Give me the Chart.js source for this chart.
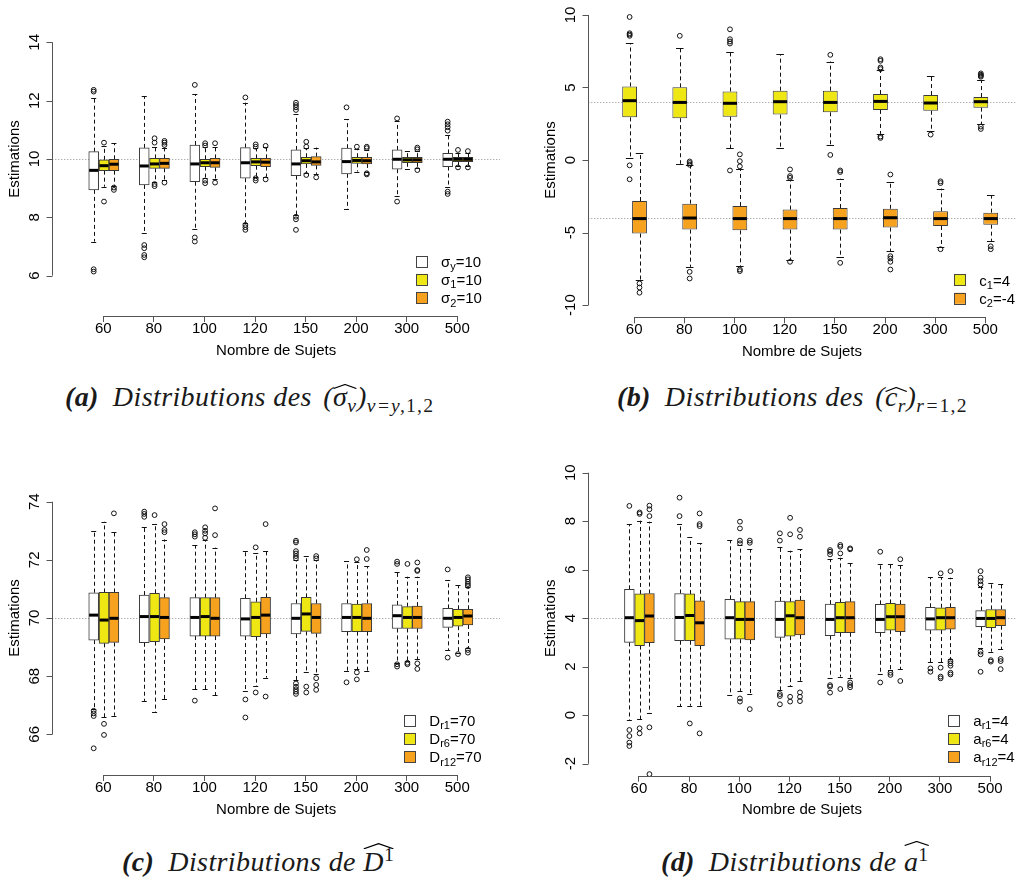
<!DOCTYPE html>
<html>
<head>
<meta charset="utf-8">
<script src="https://cdn.jsdelivr.net/npm/chart.js@4.4.1/dist/chart.umd.min.js"></script>
<style>
html,body{margin:0;padding:0;background:#fff;}
body{width:1019px;height:882px;position:relative;overflow:hidden;}
canvas{position:absolute;}
.cap{position:absolute;font-family:"Liberation Serif","Times New Roman",serif;font-style:italic;font-size:28px;color:#1a1a1a;white-space:nowrap;line-height:1;letter-spacing:0.4px;}
.cap b{font-weight:bold;margin-right:14px;}
.cap sub{font-size:0.7em;vertical-align:-0.32em;line-height:0;letter-spacing:1.2px;}
.cap sup{font-size:0.7em;vertical-align:0.5em;line-height:0;font-style:normal;}
.cap .up{font-style:normal;}
.cap .m{margin-left:4px;}
.wh{position:relative;display:inline-block;}
.wh::before{content:"";position:absolute;left:0;right:0;top:0.03em;height:0.2em;
background:url("data:image/svg+xml;utf8,<svg xmlns='http://www.w3.org/2000/svg' viewBox='0 0 40 10' preserveAspectRatio='none'><path d='M1 9 L20 1 L39 9' fill='none' stroke='black' stroke-width='1.2' vector-effect='non-scaling-stroke'/></svg>") no-repeat;background-size:100% 100%;}
.wh.c::before{top:0.13em;}
.wh.D::before{top:-0.18em;}
.wh.a::before{top:-0.26em;}
</style>
</head>
<body>
<canvas id="pa" width="510" height="370" style="left:0;top:0"></canvas>
<canvas id="pb" width="509" height="370" style="left:510px;top:0"></canvas>
<canvas id="pc" width="510" height="400" style="left:0;top:440px"></canvas>
<canvas id="pd" width="509" height="400" style="left:510px;top:440px"></canvas>

<div class="cap" style="left:65px;top:383px"><b>(a)</b>Distributions des <span class="m">(</span><span class="wh">σ<sub>v</sub></span>)<sub>v=y,<span class="up">1,2</span></sub></div>
<div class="cap" style="left:617px;top:383px"><b>(b)</b>Distributions des <span class="m">(</span><span class="wh c">c<sub>r</sub></span>)<sub>r=<span class="up">1,2</span></sub></div>
<div class="cap" style="left:122px;top:848px"><b>(c)</b>Distributions de <span class="wh D">D<sup>1</sup></span></div>
<div class="cap" style="left:661px;top:848px"><b>(d)</b>Distributions de <span class="wh a">a<sup>1</sup></span></div>

<script>
// ---------------- DATA ----------------
const categories = ['60','80','100','120','150','200','300','500'];

// each entry: [lower whisker, Q1, median, Q3, upper whisker]
// Panel (a)
const a_sigmaY = [[7.17,8.94,9.61,10.25,12.10],[7.45,9.11,9.76,10.38,12.16],[7.59,9.22,9.83,10.48,12.23],[7.82,9.34,9.87,10.39,11.93],[8.08,9.43,9.83,10.31,11.54],[8.27,9.49,9.91,10.37,11.37],[8.74,9.65,9.99,10.31,11.30],[9.05,9.74,9.99,10.19,10.82]];
const a_sigmaY_out = [[12.37,12.31,6.22,6.14],[7.05,6.94,6.71,6.63],[12.54,7.31,7.17],[12.11,7.74,7.66,7.57],[11.93,11.85,11.77,11.68,8.02,7.93,7.57],[11.77],[11.39,8.54],[11.28,11.19,11.09,10.97,8.88,8.80]];
const a_sigma1 = [[9.05,9.60,9.77,9.97,10.45],[9.22,9.68,9.83,10.02,10.42],[9.34,9.74,9.87,9.99,10.42],[9.39,9.77,9.90,10.02,10.37],[9.53,9.83,9.94,10.06,10.37],[9.57,9.85,9.95,10.06,10.35],[9.65,9.87,9.97,10.06,10.27],[9.76,9.91,9.99,10.06,10.22]];
const a_sigma1_out = [[10.56,8.54],[10.71,10.56,9.14,9.07],[10.54,10.46,9.26,9.17],[10.50,10.42,9.34,9.26],[10.59,10.42,9.45],[10.42],[],[10.31,9.71]];
const a_sigma2 = [[9.09,9.60,9.82,9.99,10.54],[9.28,9.68,9.85,10.02,10.39],[9.30,9.71,9.87,10.02,10.40],[9.39,9.74,9.89,10.02,10.40],[9.49,9.78,9.90,10.08,10.39],[9.57,9.83,9.94,10.06,10.31],[9.70,9.87,9.97,10.06,10.27],[9.76,9.91,9.99,10.06,10.22]];
const a_sigma2_out = [[9.02,8.94],[10.62,10.56,10.48,9.19],[10.54,9.19],[10.45,9.30],[9.37],[10.42,10.37,9.51,9.47],[10.39,10.33,9.62],[10.27,9.71]];
const a_yTicks = [6,8,10,12,14];
const a_ref = [10];
const a_legend = [['σ','y','=10'],['σ','1','=10'],['σ','2','=10']];

// Panel (b)
const b_c1 = [[0.15,2.94,4.09,5.07,8.05],[-0.26,2.88,3.97,5.01,7.69],[0.81,2.99,3.91,4.73,7.46],[0.81,3.13,4.02,4.78,7.30],[1.04,3.29,3.97,4.78,6.79],[1.80,3.45,4.04,4.55,6.22],[2.00,3.40,3.93,4.48,5.78],[2.46,3.61,4.02,4.34,5.51]];
const b_c1_out = [[9.86,8.74,8.65,8.56,-0.37,-1.33],[8.56],[9.01,8.33,8.17,8.03,-0.72],[],[7.25,0.35],[6.95,6.84,6.38,6.27,1.62,1.52],[1.75],[5.97,5.88,5.81,5.74,2.30,2.14]];
const b_c2 = [[-8.24,-5.07,-4.04,-2.83,0.45],[-7.37,-4.80,-4.00,-3.01,-0.37],[-7.32,-4.85,-4.04,-3.17,-0.60],[-6.86,-4.80,-4.04,-3.42,-1.36],[-6.68,-4.80,-4.04,-3.31,-1.29],[-6.29,-4.66,-3.98,-3.36,-1.52],[-5.99,-4.55,-4.04,-3.54,-1.97],[-5.58,-4.46,-4.04,-3.63,-2.44]];
const b_c2_out = [[-8.51,-8.79,-9.15],[-0.10,-0.21,-0.33,-7.71,-8.17],[0.39,-0.08,-0.44,-7.55,-7.66],[-0.65,-1.11,-1.23,-7.02],[-0.72,-0.83,-7.09],[-1.00,-6.63,-6.79,-7.02,-7.55],[-1.47,-1.59,-6.15],[-5.95,-6.15]];
const b_yTicks = [-10,-5,0,5,10];
const b_ref = [4,-4];
const b_legend = [['c','1','=4'],['c','2','=-4']];

// Panel (c)
const c_dr1 = [[66.87,69.24,70.10,70.87,72.99],[67.15,69.15,70.05,70.79,73.14],[67.55,69.38,70.02,70.70,72.51],[67.49,69.38,69.97,70.68,72.30],[67.87,69.45,69.99,70.50,71.99],[68.19,69.53,70.02,70.50,71.96],[68.46,69.64,70.08,70.45,71.59],[68.90,69.68,69.99,70.33,71.31]];
const c_dr1_out = [[66.81,66.72,66.63,65.52],[73.66,73.58,73.48],[72.95,72.88,72.80,67.16],[67.20,66.58],[72.66,72.60,72.30,72.22,72.13,72.05,67.75,67.64,67.55,67.47,67.39],[67.79],[71.94,71.86,68.41,68.33],[71.67,68.64]];
const c_dr6 = [[66.58,69.13,69.93,70.88,73.31],[66.76,69.19,70.05,70.85,73.23],[67.55,69.38,70.05,70.70,72.68],[67.66,69.36,70.02,70.56,72.22],[68.16,69.54,70.14,70.71,72.13],[68.23,69.53,70.02,70.48,71.94],[68.53,69.64,70.02,70.39,71.42],[68.81,69.72,70.02,70.30,71.13]];
const c_dr6_out = [[66.36,65.98],[73.54],[73.12,73.00,72.91,72.76],[72.43,67.44],[67.64,67.44],[72.02,68.13,67.89],[71.86,68.46,68.41],[68.76]];
const c_dr12 = [[66.64,69.16,69.99,70.88,72.95],[67.22,69.28,70.02,70.70,72.70],[67.35,69.38,69.99,70.70,72.42],[67.95,69.45,70.10,70.71,72.32],[68.07,69.47,70.02,70.50,71.99],[68.19,69.53,69.99,70.50,71.79],[68.59,69.64,70.02,70.41,71.42],[68.96,69.76,70.07,70.30,71.08]];
const c_dr12_out = [[73.60],[73.23,73.03,72.95],[73.77,72.85],[73.23,67.30],[72.13,72.05,67.93,67.70,67.53],[72.34,72.03],[71.91,71.65,71.62,68.44,68.25],[71.40,71.33,71.25,71.17,71.10,68.90,68.81]];
const c_yTicks = [66,68,70,72,74];
const c_ref = [70];
const c_legend = [['D','r1','=70'],['D','r6','=70'],['D','r12','=70']];

// Panel (d)
const d_ar1 = [[-0.20,3.00,4.02,5.19,7.88],[0.38,3.07,4.03,5.02,7.88],[0.83,3.13,4.02,4.78,7.22],[1.04,3.21,3.95,4.71,6.92],[1.55,3.28,3.95,4.58,6.44],[1.70,3.40,3.95,4.57,6.22],[2.18,3.51,3.97,4.45,5.68],[2.78,3.65,3.99,4.31,5.30]];
const d_ar1_out = [[8.63,-0.61,-0.86,-1.13,-1.27],[8.97,8.21],[],[7.50,7.20,0.87,0.79,0.45],[6.81,6.74,6.63,1.24,1.18,0.93],[6.74,1.35],[1.93,1.79],[5.94,5.67,5.53,5.39,2.62,2.51,1.79]];
const d_ar6 = [[-0.17,2.87,3.90,5.00,8.02],[0.39,3.07,4.11,5.00,7.33],[1.00,3.13,3.95,4.68,7.02],[1.20,3.26,4.10,4.68,6.78],[1.59,3.40,4.02,4.65,6.49],[1.86,3.51,4.06,4.61,6.22],[2.18,3.51,4.02,4.43,5.68],[2.62,3.61,3.99,4.36,5.44]];
const d_ar6_out = [[8.36,8.30,-0.54,-0.75],[-0.34],[7.98,7.70,7.20,7.09,0.69,0.56],[8.14,7.46,0.76,0.56],[7.02,6.95,6.67,1.08],[1.75,1.66],[5.85,1.96,1.59,1.52],[2.27,2.21]];
const d_ar12 = [[0.10,2.99,4.09,5.02,7.98],[0.39,2.87,3.81,4.72,7.09],[0.86,3.10,3.95,4.68,6.85],[1.42,3.31,4.02,4.75,6.85],[1.55,3.40,4.02,4.68,6.26],[1.89,3.44,4.06,4.58,6.19],[2.30,3.55,4.02,4.45,5.67],[2.71,3.69,4.02,4.36,5.39]];
const d_ar12_out = [[8.64,8.49,8.21,-0.50,-2.43],[8.32,7.88,7.80,-0.75],[7.20,7.11,0.25],[7.64,7.36,0.94,0.76,0.58],[6.88,6.84,1.35,1.24,1.15],[6.43,1.41],[5.94,2.23,2.14,2.04,1.75,1.68],[2.32,2.23,1.90]];
const d_yTicks = [-2,0,2,4,6,8,10];
const d_ref = [4];
const d_legend = [['a','r1','=4'],['a','r6','=4'],['a','r12','=4']];

// ---------------- STYLE / LAYOUT ----------------
const FONT = '"Liberation Sans", Arial, Helvetica, sans-serif';
const WHITE = '#ffffff', YELLOW = '#EFE714', ORANGE = '#F6A21E';
const BORDER = '#3a3a3a', AXIS = '#555555';

const panels = [
  { id:'pa', pad:{left:0,right:10,top:32,bottom:6}, yWidth:52.3,
    xMin:-0.0085, xMax:8.845, yMin:4.617, yMax:14.353, yTicks:a_yTicks, refs:a_ref, boxWidth:0.2,
    series:[{stats:a_sigmaY,out:a_sigmaY_out,off:-0.19,color:WHITE},{stats:a_sigma1,out:a_sigma1_out,off:0.014,color:YELLOW},{stats:a_sigma2,out:a_sigma2_out,off:0.21,color:ORANGE}],
    legend:{labels:a_legend, dx:-84, lastDy:-18.3} },
  { id:'pb', pad:{left:0,right:0,top:2.4,bottom:4.7}, yWidth:78.3,
    xMin:0.0864, xMax:8.603, yMin:-10.845, yMax:10.797, yTicks:b_yTicks, refs:b_ref, boxWidth:0.3,
    series:[{stats:b_c1,out:b_c1_out,off:-0.09,color:YELLOW},{stats:b_c2,out:b_c2_out,off:0.107,color:ORANGE}],
    legend:{labels:b_legend, dx:-61.3, lastDy:-19} },
  { id:'pc', pad:{left:0,right:10,top:51.5,bottom:17}, yWidth:52.3,
    xMin:-0.0085, xMax:8.845, yMin:64.602, yMax:74.351, yTicks:c_yTicks, refs:c_ref, boxWidth:0.2,
    series:[{stats:c_dr1,out:c_dr1_out,off:-0.19,color:WHITE},{stats:c_dr6,out:c_dr6_out,off:0.014,color:YELLOW},{stats:c_dr12,out:c_dr12_out,off:0.21,color:ORANGE}],
    legend:{labels:c_legend, dx:-95.7, lastDy:-18.3} },
  { id:'pd', pad:{left:0,right:0,top:21,bottom:16.3}, yWidth:78.3,
    xMin:-0.0085, xMax:8.508, yMin:-2.495, yMax:10.482, yTicks:d_yTicks, refs:d_ref, boxWidth:0.2,
    series:[{stats:d_ar1,out:d_ar1_out,off:-0.19,color:WHITE},{stats:d_ar6,out:d_ar6_out,off:0.014,color:YELLOW},{stats:d_ar12,out:d_ar12_out,off:0.21,color:ORANGE}],
    legend:{labels:d_legend, dx:-67.3, lastDy:-19} }
];

// ---------------- PLUGIN (whiskers, medians, R-style axes, legend) ----------------
function boxGeom(xs, pos, bw){
  const cx = xs.getPixelForValue(pos);
  const hw = (xs.getPixelForValue(pos + bw/2) - xs.getPixelForValue(pos - bw/2)) / 2;
  return {cx, hw};
}
const rBoxPlugin = {
  id: 'rbox',
  beforeDatasetsDraw(chart, args, cfg){
    const {ctx, chartArea:ca} = chart; const xs = chart.scales.x, ys = chart.scales.y;
    ctx.save();
    ctx.beginPath(); ctx.rect(ca.left, ca.top, ca.right - ca.left, ca.bottom - ca.top); ctx.clip();
    ctx.strokeStyle = '#8f8f8f'; ctx.lineWidth = 1; ctx.setLineDash([1,2]);
    cfg.refs.forEach(v => { const y = Math.round(ys.getPixelForValue(v)) + 0.5;
      ctx.beginPath(); ctx.moveTo(ca.left, y); ctx.lineTo(ca.right, y); ctx.stroke(); });
    chart.data.datasets.forEach(ds => {
      if (!ds.stats) return;
      ds.stats.forEach((s, i) => {
        const {cx, hw} = boxGeom(xs, i + 1 + ds.off, cfg.boxWidth);
        const x = Math.round(cx) + 0.5;
        const [lo, q1, , q3, hi] = s.map(v => ys.getPixelForValue(v));
        ctx.strokeStyle = '#111'; ctx.lineWidth = 1; ctx.setLineDash([4,3]);
        ctx.beginPath(); ctx.moveTo(x, q3); ctx.lineTo(x, hi); ctx.moveTo(x, q1); ctx.lineTo(x, lo); ctx.stroke();
        ctx.setLineDash([]);
        ctx.beginPath();
        ctx.moveTo(cx - hw/2, Math.round(hi)+0.5); ctx.lineTo(cx + hw/2, Math.round(hi)+0.5);
        ctx.moveTo(cx - hw/2, Math.round(lo)+0.5); ctx.lineTo(cx + hw/2, Math.round(lo)+0.5);
        ctx.stroke();
      });
    });
    ctx.restore();
  },
  afterDatasetsDraw(chart, args, cfg){
    const {ctx} = chart; const xs = chart.scales.x, ys = chart.scales.y;
    ctx.save();
    ctx.strokeStyle = '#000'; ctx.lineWidth = 3; ctx.lineCap = 'butt';
    chart.data.datasets.forEach(ds => {
      if (!ds.stats) return;
      ds.stats.forEach((s, i) => {
        const {cx, hw} = boxGeom(xs, i + 1 + ds.off, cfg.boxWidth);
        const y = ys.getPixelForValue(s[2]);
        ctx.beginPath(); ctx.moveTo(cx - hw + 0.5, y); ctx.lineTo(cx + hw - 0.5, y); ctx.stroke();
      });
    });
    ctx.restore();
  },
  afterDraw(chart, args, cfg){
    const {ctx, chartArea:ca} = chart; const xs = chart.scales.x, ys = chart.scales.y;
    ctx.save();
    // y axis (R style: spans first..last tick, rotated labels)
    const ax = Math.round(ca.left) + 0.5;
    const t = cfg.yTicks;
    ctx.strokeStyle = AXIS; ctx.lineWidth = 1;
    ctx.beginPath();
    ctx.moveTo(ax, ys.getPixelForValue(t[0])); ctx.lineTo(ax, ys.getPixelForValue(t[t.length-1]));
    t.forEach(v => { const y = Math.round(ys.getPixelForValue(v)) + 0.5; ctx.moveTo(ax - 6, y); ctx.lineTo(ax, y); });
    ctx.stroke();
    ctx.fillStyle = '#000'; ctx.font = '15px ' + FONT; ctx.textAlign = 'center'; ctx.textBaseline = 'middle';
    t.forEach(v => { ctx.save(); ctx.translate(ca.left - 17, ys.getPixelForValue(v)); ctx.rotate(-Math.PI/2); ctx.fillText(String(v), 0, 0); ctx.restore(); });
    ctx.save();
    ctx.translate(ca.left - 37, (ys.getPixelForValue(t[0]) + ys.getPixelForValue(t[t.length-1])) / 2);
    ctx.rotate(-Math.PI/2); ctx.fillText('Estimations', 0, 0); ctx.restore();
    // x axis line from first to last category
    const by = Math.round(ca.bottom) + 0.5;
    ctx.beginPath(); ctx.moveTo(xs.getPixelForValue(1), by); ctx.lineTo(xs.getPixelForValue(categories.length), by); ctx.stroke();
    // legend
    const L = cfg.legend; const n = L.labels.length;
    L.labels.forEach((lab, k) => {
      const cy = ca.bottom + L.lastDy - (n - 1 - k) * 18.3;
      const sx = ca.right + L.dx;
      ctx.fillStyle = cfg.colors[k]; ctx.fillRect(sx, cy - 5.5, 11, 11);
      ctx.strokeStyle = '#444'; ctx.lineWidth = 1; ctx.strokeRect(Math.round(sx) + 0.5, Math.round(cy - 5.5) + 0.5, 11, 11);
      let tx = sx + 25; const base = cy + 5.5;
      ctx.fillStyle = '#000'; ctx.textAlign = 'left'; ctx.textBaseline = 'alphabetic';
      ctx.font = '15px ' + FONT; ctx.fillText(lab[0], tx, base); tx += ctx.measureText(lab[0]).width;
      ctx.font = '11px ' + FONT; ctx.fillText(lab[1], tx, base + 3.5); tx += ctx.measureText(lab[1]).width;
      ctx.font = '15px ' + FONT; ctx.fillText(lab[2], tx, base);
    });
    ctx.restore();
  }
};

// ---------------- BUILD CHARTS ----------------
panels.forEach(p => {
  const datasets = [];
  p.series.forEach(s => {
    const pts = [];
    s.out.forEach((arr, i) => arr.forEach(v => pts.push({x: i + 1 + s.off, y: v})));
    datasets.push({ type:'scatter', data: pts, pointStyle:'circle', pointRadius:2.4, pointBorderWidth:1,
      pointBackgroundColor:'rgba(0,0,0,0)', pointBorderColor:'#111', pointHoverRadius:2.4, clip:4 });
  });
  p.series.forEach(s => {
    datasets.push({ type:'bar', stats:s.stats, off:s.off,
      data: s.stats.map((b, i) => ({x: i + 1 + s.off, y: [b[1], b[3]]})),
      backgroundColor: s.color, borderColor: BORDER, borderWidth: 1, borderSkipped: false,
      grouped: false, categoryPercentage: 1, barPercentage: p.boxWidth / 0.2 });
  });
  new Chart(document.getElementById(p.id), {
    type: 'bar',
    data: { datasets },
    options: {
      responsive: false, animation: false, devicePixelRatio: 1, events: [],
      layout: { padding: p.pad },
      plugins: { legend: {display:false}, tooltip: {enabled:false},
        rbox: { refs: p.refs, boxWidth: p.boxWidth, yTicks: p.yTicks, legend: p.legend, colors: p.series.map(s => s.color) } },
      scales: {
        x: { type:'linear', position:'bottom', min:p.xMin, max:p.xMax, offset:false,
          afterBuildTicks: sc => { sc.ticks = categories.map((c, i) => ({value: i + 1})); },
          ticks: { autoSkip:false, maxRotation:0, minRotation:0, padding:-2, color:'#000',
            font:{family:FONT, size:15}, callback: v => categories[Math.round(v) - 1] },
          grid: { offset:false, drawOnChartArea:false, drawTicks:true, tickLength:6, color:AXIS, lineWidth:1 },
          border: { display:false },
          title: { display:true, text:'Nombre de Sujets', color:'#000', font:{family:FONT, size:15}, padding:{top:0, bottom:4.5} },
          afterFit: sc => { sc.height = 48; } },
        y: { type:'linear', min:p.yMin, max:p.yMax,
          ticks: { display:false }, grid: { display:false }, border: { display:false },
          afterFit: sc => { sc.width = p.yWidth; } }
      }
    },
    plugins: [rBoxPlugin]
  });
});
</script>
</body>
</html>
